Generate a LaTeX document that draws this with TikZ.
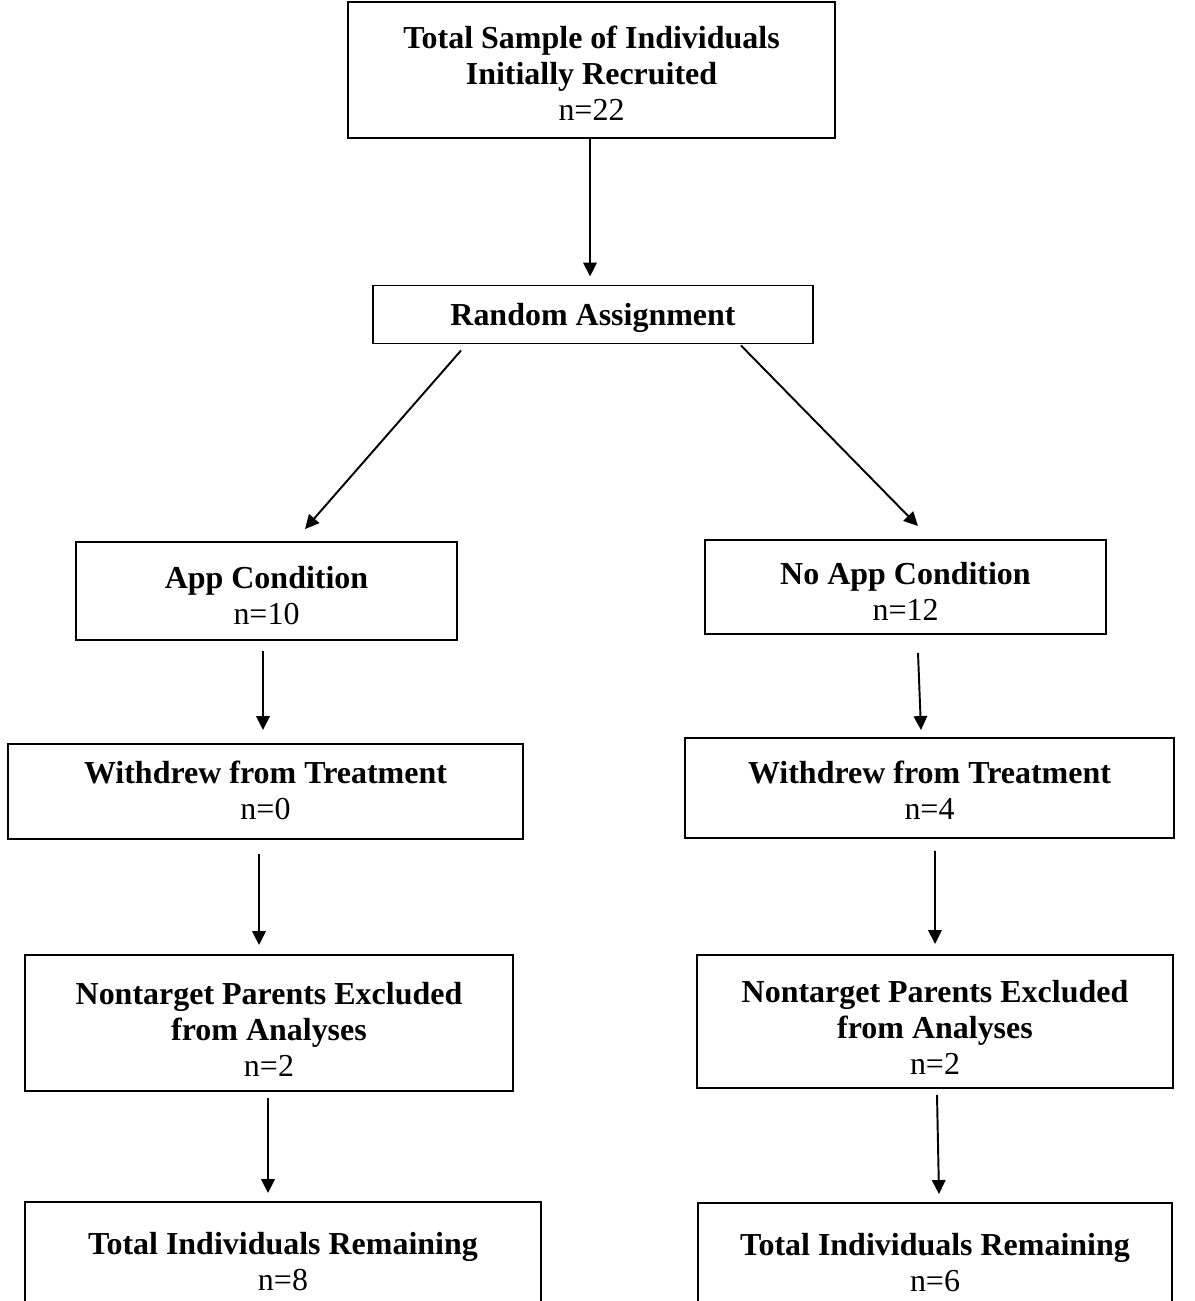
\documentclass[tikz,border=0pt]{standalone}
\usepackage{fontspec}
\setmainfont{Liberation Serif}
\usetikzlibrary{arrows.meta,calc}
% stacked lines set a little below the middle of their box
\newcommand\lowered[2]{\raisebox{-#1}[\height][\depth]{\begin{tabular}{@{}c@{}}#2\end{tabular}}}
\begin{document}
\begin{tikzpicture}[x=0.02cm,y=-0.02cm,
  box/.style={draw, line width=1.1pt, align=center, inner sep=0pt,
    font=\fontsize{18.2}{20.5}\selectfont},
  sz/.style 2 args={minimum width=#1*0.02cm, minimum height=#2*0.02cm},
  flow/.style={line width=1.1pt, -{Triangle[length=0.28cm,width=0.27cm]}}]
\useasboundingbox (0,0) rectangle (1194,1301);

% boxes
\node[box, sz={487}{136}] (top) at (591.5,70)
  {\lowered{4pt}{\textbf{Total Sample of Individuals}\\\textbf{Initially Recruited}\\n=22}};
\node[box, sz={440}{58}] (rand) at (593,314.5) {\lowered{2.3pt}{\textbf{Random Assignment}}};

\node[box, sz={381}{98}] (app) at (266.5,591) {\lowered{4.5pt}{\textbf{App Condition}\\n=10}};
\node[box, sz={401}{94}] (noapp) at (905.5,587) {\lowered{4.5pt}{\textbf{No App Condition}\\n=12}};

\node[box, sz={515}{95}] (wdL) at (265.5,791.5) {\lowered{1.5pt}{\textbf{Withdrew from Treatment}\\n=0}};
\node[box, sz={489}{100}] (wdR) at (929.5,788) {\lowered{3.5pt}{\textbf{Withdrew from Treatment}\\n=4}};

\node[box, sz={488}{136}] (ntL) at (269,1023)
  {\lowered{5.7pt}{\textbf{Nontarget Parents Excluded}\\\textbf{from Analyses}\\n=2}};
\node[box, sz={476}{133}] (ntR) at (935,1021.5)
  {\lowered{5.7pt}{\textbf{Nontarget Parents Excluded}\\\textbf{from Analyses}\\n=2}};

\node[box, sz={516}{120}] (totL) at (283,1262) {\lowered{1.7pt}{\textbf{Total Individuals Remaining}\\n=8}};
\node[box, sz={474}{120}] (totR) at (935,1263) {\lowered{1.7pt}{\textbf{Total Individuals Remaining}\\n=6}};

% connectors
\draw[flow] ($(top.south)+(-1.5,0)$) -- ($(rand.north)+(-3,-8)$);
\draw[flow] ($(rand.south west)+(89,6)$) -- ($(app.north)+(38.5,-12)$);
\draw[flow] ($(rand.south east)+(-73,1)$) -- ($(noapp.north)+(12.5,-13)$);
\draw[flow] ($(app.south)+(-3.5,10)$) -- ($(wdL.north)+(-2.5,-13)$);
\draw[flow] ($(noapp.south)+(12.5,18)$) -- ($(wdR.north)+(-8.5,-7)$);
\draw[flow] ($(wdL.south)+(-6.5,14)$) -- ($(ntL.north)+(-10,-9)$);
\draw[flow] ($(wdR.south)+(5.5,12)$) -- ($(ntR.north)+(0,-10)$);
\draw[flow] ($(ntL.south)+(-1,6)$) -- ($(totL.north)+(-15,-8)$);
\draw[flow] ($(ntR.south)+(2,6)$) -- ($(totR.north)+(4,-8)$);
\end{tikzpicture}
\end{document}
